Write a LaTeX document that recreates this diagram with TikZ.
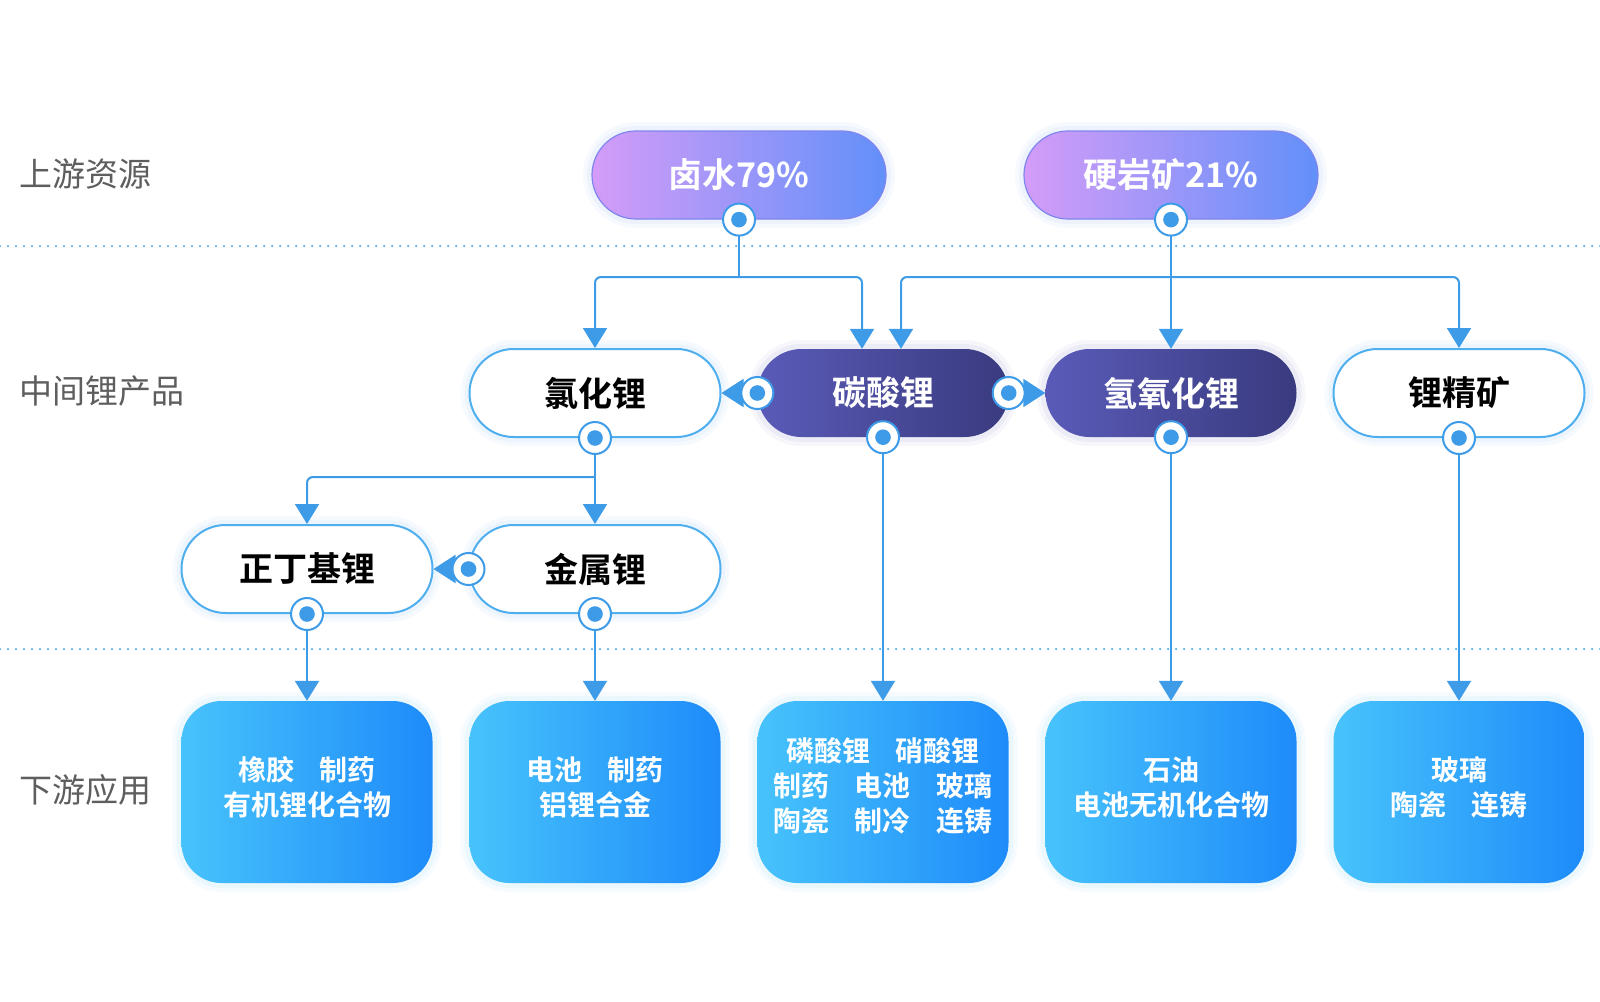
\documentclass[tikz,border=0pt]{standalone}
\usepackage{fontspec}
\setmainfont{Noto Sans CJK SC}[BoldFont={Noto Sans CJK SC Bold}]
\usetikzlibrary{arrows.meta}
\definecolor{lnblue}{HTML}{3E9BE8}
\definecolor{divblue}{HTML}{5DB3EA}
\definecolor{srcL}{HTML}{D49CF8}
\definecolor{srcR}{HTML}{6290F9}
\definecolor{srcB}{HTML}{7E86EE}
\definecolor{dkL}{HTML}{5A5BB8}
\definecolor{dkR}{HTML}{393A7E}
\definecolor{apL}{HTML}{47C3FB}
\definecolor{apR}{HTML}{1E8BFA}
\definecolor{wbd}{HTML}{4FAEEE}
\definecolor{lblgray}{HTML}{5E5E5E}
\begin{document}
\begin{tikzpicture}[x=1pt,y=-1pt,
  glow/.style={preaction={draw=#1, draw opacity=0.05, line width=18pt},
               preaction={draw=#1, draw opacity=0.06, line width=10pt}},
  pill/.style={rounded corners=44pt, minimum width=251pt, minimum height=88pt, inner sep=0pt,
    font=\bfseries\fontsize{34}{40}\selectfont},
  srcnode/.style={pill, minimum width=294pt, glow=srcR, left color=srcL, right color=srcR, draw=srcB, line width=1.2pt,
    text=white},
  darknode/.style={pill, glow=dkL, left color=dkL, right color=dkR, text=white},
  whitenode/.style={pill, glow=wbd, fill=white, draw=wbd, line width=2pt, text=black},
  appbox/.style={rounded corners=40pt, minimum width=251pt, minimum height=182pt, inner sep=0pt,
    glow=apL, left color=apL, right color=apR},
  apptext/.style={text=white, align=center, inner sep=0pt,
    font=\bfseries\fontsize{28}{35}\selectfont},
  dotmark/.style={circle, draw=lnblue, line width=2pt, fill=white, minimum size=32pt, inner sep=0pt,
    path picture={\fill[lnblue] (path picture bounding box.center) circle (7.8pt);}},
  conn/.style={draw=lnblue, line width=2pt, rounded corners=6pt, -{Triangle[width=24pt,length=20pt]}},
  sidearrow/.style={draw=lnblue, line width=2pt, -{Triangle[width=28pt,length=22pt]}},
  bus/.style={draw=lnblue, line width=2pt},
  divider/.style={draw=divblue, line width=2.5pt, line cap=round, dash pattern=on 0pt off 8pt},
  lbl/.style={anchor=west, text=lblgray, inner sep=0pt, font=\fontsize{33}{37}\selectfont}
]
\fill[white] (0,0) rectangle (1600,1001);
\useasboundingbox (0,0) rectangle (1600,1001);

% dividers
\draw[divider] (0,246) -- (1600,246);
\draw[divider] (0,649) -- (1600,649);

% row labels
\node[lbl] (lab1) at (19,174) {上游资源};
\node[lbl] (lab2) at (19,391) {中间锂产品};
\node[lbl] (lab3) at (19,790) {下游应用};

% nodes
\node[srcnode] (bs) at (739,175) {卤水79\%};
\node[srcnode] (ys) at (1171,175) {硬岩矿21\%};
\node[whitenode] (lcl) at (595,393) {氯化锂};
\node[darknode] (tsl) at (883,393) {碳酸锂};
\node[darknode] (qyh) at (1171,393) {氢氧化锂};
\node[whitenode] (jkk) at (1459,393) {锂精矿};
\node[whitenode] (zdj) at (307,569) {正丁基锂};
\node[whitenode] (jsl) at (595,569) {金属锂};

\node[appbox] (a1) at (307,792) {};
\node[appbox] (a2) at (595,792) {};
\node[appbox] (a3) at (883,792) {};
\node[appbox] (a4) at (1171,792) {};
\node[appbox] (a5) at (1459,792) {};
\node[apptext] (t1) at ([yshift=5pt]a1.center) {橡胶\hspace{0.9em}制药\\有机锂化合物};
\node[apptext] (t2) at ([yshift=5pt]a2.center) {电池\hspace{0.9em}制药\\铝锂合金};
\node[apptext] (t3) at ([yshift=6pt]a3.center) {磷酸锂\hspace{0.9em}硝酸锂\\制药\hspace{0.9em}电池\hspace{0.9em}玻璃\\陶瓷\hspace{0.9em}制冷\hspace{0.9em}连铸};
\node[apptext] (t4) at ([yshift=5pt]a4.center) {石油\\电池无机化合物};
\node[apptext] (t5) at ([yshift=5pt]a5.center) {玻璃\\陶瓷\hspace{0.9em}连铸};

% bus levels
\coordinate (busA) at (0,277);
\coordinate (busB) at (0,477);

% connectors from sources
\draw[bus] (bs.south) -- (bs.south |- busA);
\draw[conn] (bs.south |- busA) -| (lcl.north);
\draw[conn] (bs.south |- busA) -| ([xshift=-21pt]tsl.north);
\draw[conn] (ys.south) -- (qyh.north);
\draw[conn] (ys.south |- busA) -| ([xshift=18pt]tsl.north);
\draw[conn] (ys.south |- busA) -| (jkk.north);

% side arrows
\draw[sidearrow] (tsl.west) -- (lcl.east);
\draw[sidearrow] (tsl.east) -- (qyh.west);
\draw[sidearrow] (jsl.west) -- (zdj.east);

% from lithium chloride
\draw[bus] (lcl.south) -- (lcl.south |- busB);
\draw[conn] (lcl.south |- busB) -| (zdj.north);
\draw[conn] (lcl.south) -- (jsl.north);

% down to applications
\draw[conn] (zdj.south) -- (a1.north);
\draw[conn] (jsl.south) -- (a2.north);
\draw[conn] (tsl.south) -- (a3.north);
\draw[conn] (qyh.south) -- (a4.north);
\draw[conn] (jkk.south) -- (a5.north);

% dot markers
\node[dotmark] (m1) at (bs.south) {};
\node[dotmark] (m2) at (ys.south) {};
\node[dotmark] (m3) at (lcl.south) {};
\node[dotmark] (m4) at (tsl.south) {};
\node[dotmark] (m5) at (qyh.south) {};
\node[dotmark] (m6) at (jkk.south) {};
\node[dotmark] (m7) at (zdj.south) {};
\node[dotmark] (m8) at (jsl.south) {};
\node[dotmark] (m9) at (tsl.west) {};
\node[dotmark] (m10) at (tsl.east) {};
\node[dotmark] (m11) at (jsl.west) {};
\end{tikzpicture}
\end{document}
